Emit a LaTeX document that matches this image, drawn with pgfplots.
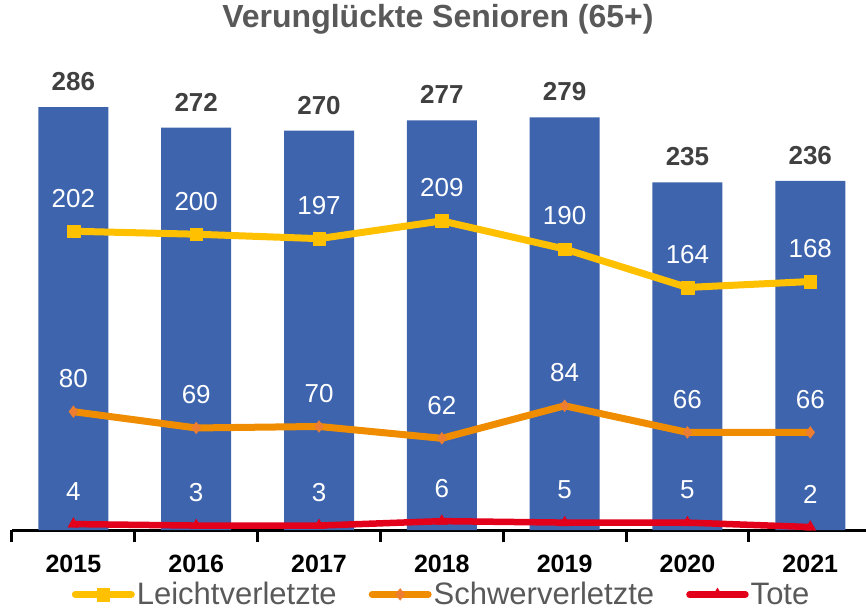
\documentclass[border=0pt]{standalone}
\usepackage{fontspec}
\setmainfont{Liberation Sans}
\usepackage{pgfplots}
\pgfplotsset{compat=1.18}
\definecolor{barblue}{HTML}{3D64AD}
\definecolor{leicht}{HTML}{FFC000}
\definecolor{schwerline}{HTML}{F08C00}
\definecolor{schwermark}{HTML}{ED7D31}
\definecolor{tote}{HTML}{E2001A}
\definecolor{titlegray}{HTML}{595959}
\definecolor{labelgray}{HTML}{404040}
\begin{document}
\begin{tikzpicture}[x=1pt,y=1pt]
\path[use as bounding box] (-12,-80) rectangle (854,530);
\begin{axis}[
  at={(0,0)}, anchor=south west,
  scale only axis, width=854pt, height=470pt,
  xmin=-0.5, xmax=6.454, ymin=0, ymax=317.8,
  clip=false,
  axis x line*=bottom, axis y line=none,
  axis line style={line width=3pt, black},
  xtick={0,1,2,3,4,5,6},
  xticklabels={2015,2016,2017,2018,2019,2020,2021},
  major tick length=0pt,
  extra x ticks={-0.5,0.5,1.5,2.5,3.5,4.5,5.5},
  extra x tick labels={},
  extra x tick style={tick align=outside, major tick length=12pt, tick style={line width=3pt, black}},
  xticklabel style={font=\fontsize{25}{25}\selectfont\bfseries, text=black, anchor=center, yshift=-34pt},
  /pgf/number format/assume math mode=true,
  title={Verunglückte Senioren (65+)},
  title style={at={(axis description cs:0.4988,1.0745)}, anchor=center, font=\fontsize{32}{32}\selectfont\bfseries, text=titlegray},
  legend style={at={(axis description cs:0.503,-0.137)}, anchor=center, draw=none, fill=none,
    font=\fontsize{31}{31}\selectfont, text=titlegray, column sep=0pt,
    /tikz/every even column/.append style={column sep=30pt},
    nodes={inner sep=2pt}},
  legend columns=3,
  legend image code/.code={\draw[mark repeat=2, mark phase=2, line cap=round, #1] plot coordinates {(0pt,0pt) (28pt,0pt) (56pt,0pt)};},
]
\addplot[ybar, bar width=70pt, fill=barblue, draw=none, forget plot,
  nodes near coords,
  nodes near coords style={anchor=center, yshift=25.5pt, text=labelgray, font=\fontsize{26}{26}\selectfont\bfseries}]
  coordinates {(0,286) (1,272) (2,270) (3,277) (4,279) (5,235) (6,236)};

\addplot[leicht, line width=7pt, line join=round, mark=square*, mark size=6.3pt, mark options={solid, fill=leicht, draw=leicht, line width=0.3pt},
  nodes near coords,
  nodes near coords style={anchor=center, yshift=33pt, text=white, font=\fontsize{26}{26}\selectfont}]
  coordinates {(0,202) (1,200) (2,197) (3,209) (4,190) (5,164) (6,168)};
\addlegendentry{Leichtverletzte}

\addplot[schwerline, line width=7pt, line join=round, mark=diamond*, mark size=6pt, mark options={solid, fill=schwermark, draw=schwermark, line width=0.3pt},
  nodes near coords,
  nodes near coords style={anchor=center, yshift=33pt, text=white, font=\fontsize{26}{26}\selectfont}]
  coordinates {(0,80) (1,69) (2,70) (3,62) (4,84) (5,66) (6,66)};
\addlegendentry{Schwerverletzte}

\addplot[tote, line width=6.5pt, line join=round, mark=triangle*, mark size=6.5pt, mark options={solid, fill=tote, draw=tote, line width=0.3pt},
  nodes near coords,
  nodes near coords style={anchor=center, yshift=33pt, text=white, font=\fontsize{26}{26}\selectfont}]
  coordinates {(0,4) (1,3) (2,3) (3,6) (4,5) (5,5) (6,2)};
\addlegendentry{Tote}
\end{axis}
\end{tikzpicture}
\end{document}
